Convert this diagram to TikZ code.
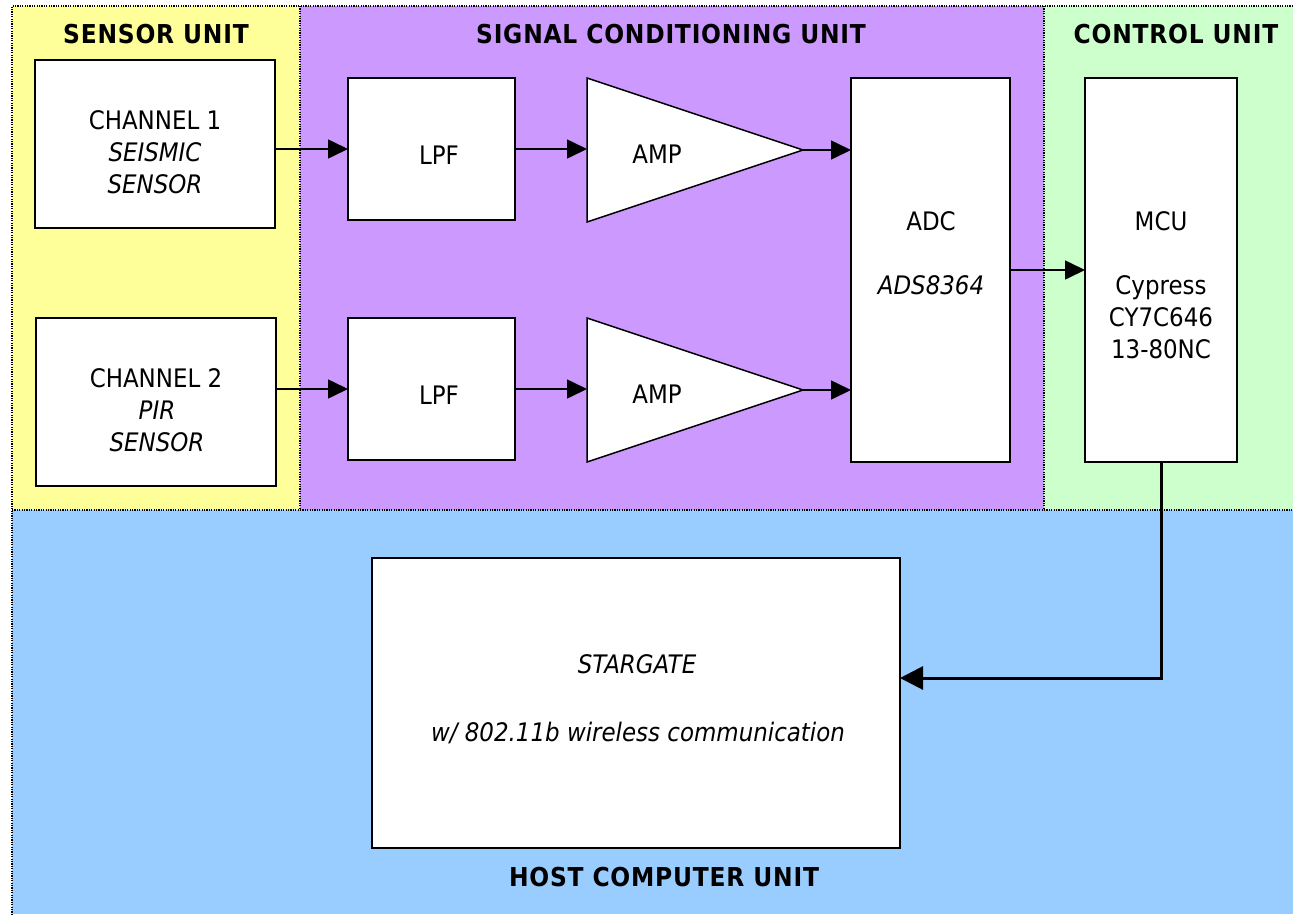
\documentclass[tikz,border=0pt]{standalone}
\usepackage{fontspec}
\setmainfont{DejaVu Sans}[FakeStretch=0.9]
\usetikzlibrary{arrows.meta}
\definecolor{sensorY}{HTML}{FFFF99}
\definecolor{signalP}{HTML}{CC99FF}
\definecolor{controlG}{HTML}{CCFFCC}
\definecolor{hostB}{HTML}{99CCFF}
\begin{document}
\begin{tikzpicture}[x=1pt,y=-1pt,
  blk/.style={draw=black,line width=1.6pt,fill=white,inner sep=0pt,outer sep=0pt,anchor=north west},
  ampshape/.style={draw=black,line width=1.5pt,fill=white},
  lbl/.style={anchor=base,inner sep=0pt,font=\fontsize{25.5}{30}\selectfont},
  ilbl/.style={anchor=base,inner sep=0pt,font=\fontsize{25.5}{30}\selectfont\itshape},
  ttl/.style={anchor=base,inner sep=0pt,font=\fontsize{26}{30}\selectfont\bfseries\addfontfeature{LetterSpace=3}},
  border/.style={line width=1.2pt,dash pattern=on 1.2pt off 1.2pt},
  conn/.style={line width=1.6pt,-{Triangle[length=20pt,width=19pt]}},
  bigconn/.style={line width=3pt,-{Triangle[length=23pt,width=23pt]}}
]
\useasboundingbox (0,0) rectangle (1293,914);
% regions
\fill[sensorY] (12,6) rectangle (300,510);
\fill[signalP] (300,6) rectangle (1044,510);
\fill[controlG] (1044,6) rectangle (1293,510);
\fill[hostB] (12,510) rectangle (1293,914);
\draw[border] (1293,6) -- (12,6) -- (12,914);
\draw[border] (300,6) -- (300,510);
\draw[border] (1044,6) -- (1044,510);
\draw[border] (12,510) -- (1293,510);
% titles
\node[ttl] (tsensor) at (156,43) {SENSOR UNIT};
\node[ttl] (tsignal) at (671,43) {SIGNAL CONDITIONING UNIT};
\node[ttl] (tcontrol) at (1176,43) {CONTROL UNIT};
\node[ttl] (thost) at (664,886) {HOST COMPUTER UNIT};
% blocks
\node[blk,minimum width=240pt,minimum height=168pt] (ch1) at (35,60) {};
\node[blk,minimum width=240pt,minimum height=168pt] (ch2) at (36,318) {};
\node[blk,minimum width=167pt,minimum height=142pt] (lpf1) at (348,78) {};
\node[blk,minimum width=167pt,minimum height=142pt] (lpf2) at (348,318) {};
\node[blk,minimum width=159pt,minimum height=384pt] (adc) at (851,78) {};
\node[blk,minimum width=152pt,minimum height=384pt] (mcu) at (1085,78) {};
\node[blk,minimum width=528pt,minimum height=290pt] (sg) at (372,558) {};
% amplifiers
\coordinate (a1n) at (587,78);
\coordinate (a1s) at (587,222);
\coordinate (a1t) at (803,150);
\coordinate (a2n) at (587,318);
\coordinate (a2s) at (587,462);
\coordinate (a2t) at (803,390);
\draw[ampshape] (a1n) -- (a1t) -- (a1s) -- cycle;
\draw[ampshape] (a2n) -- (a2t) -- (a2s) -- cycle;
% labels
\node[lbl] (l-ch1a) at (155,129) {CHANNEL 1};
\node[ilbl] (l-ch1b) at (155,161) {SEISMIC};
\node[ilbl] (l-ch1c) at (155,193) {SENSOR};
\node[lbl] (l-ch2a) at (156,387) {CHANNEL 2};
\node[ilbl] (l-ch2b) at (157,419) {PIR};
\node[ilbl] (l-ch2c) at (157,451) {SENSOR};
\node[lbl] (l-lpf1) at (439,164) {LPF};
\node[lbl] (l-lpf2) at (439,404) {LPF};
\node[lbl] (l-amp1) at (657,163) {AMP};
\node[lbl] (l-amp2) at (657,403) {AMP};
\node[lbl] (l-adc) at (931,230) {ADC};
\node[ilbl] (l-ads) at (931,294) {ADS8364};
\node[lbl] (l-mcu) at (1161,230) {MCU};
\node[lbl] (l-cyp) at (1161,294) {Cypress};
\node[lbl] (l-cy7) at (1161,326) {CY7C646};
\node[lbl] (l-13) at (1161,358) {13-80NC};
\node[ilbl] (l-sg) at (637,673) {STARGATE};
\node[ilbl] (l-wl) at (638,741) {w/ 802.11b wireless communication};
% connectors
\draw[conn] (ch1.east |- lpf1.west) -- (lpf1.west);
\draw[conn] (ch2.east |- lpf2.west) -- (lpf2.west);
\draw[conn] (lpf1.east) -- (lpf1.east -| a1n);
\draw[conn] (lpf2.east) -- (lpf2.east -| a2n);
\draw[conn] (a1t) -- (a1t -| adc.west);
\draw[conn] (a2t) -- (a2t -| adc.west);
\draw[conn] (adc.east) -- (adc.east -| mcu.west);
\coordinate (sgin) at (900,678);
\draw[bigconn] (mcu.south) |- (sgin);
\end{tikzpicture}
\end{document}
